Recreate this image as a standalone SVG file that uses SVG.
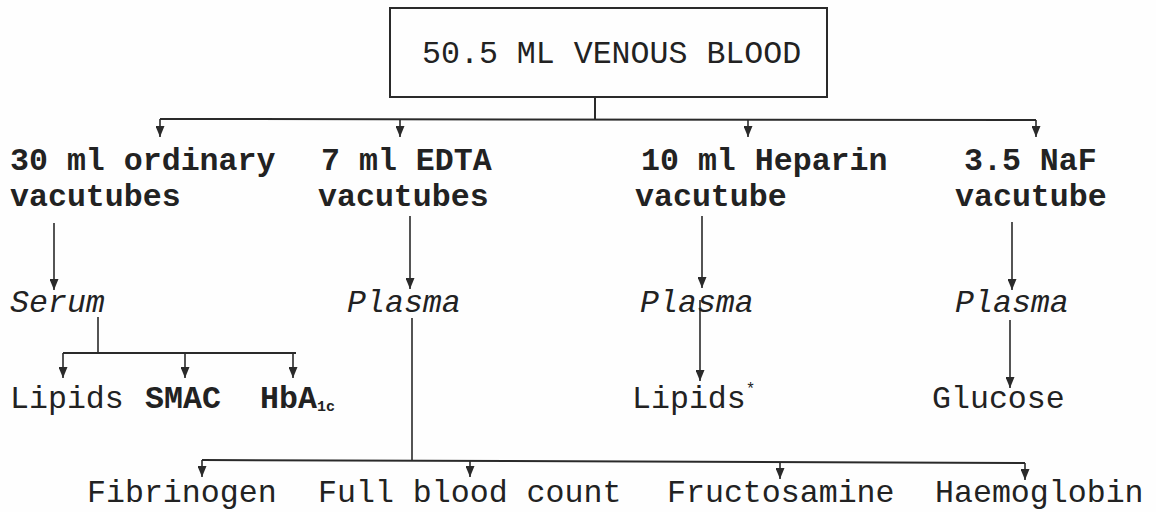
<svg xmlns="http://www.w3.org/2000/svg" width="1156" height="512" viewBox="0 0 1156 512">
<defs>
<marker id="ah" viewBox="0 -4.5 11 9" refX="11" refY="0" markerWidth="11" markerHeight="9" markerUnits="userSpaceOnUse" orient="auto">
<path d="M0,-4.5 L11,0 L0,4.5 z" fill="#2a2a2a"/>
</marker>
<style>
text{font-family:"Liberation Mono","Courier New",monospace;font-size:31.6px;fill:#222;}
.b{font-weight:bold;}
.i{font-style:italic;}
.ln{stroke:#2a2a2a;stroke-width:2;fill:none;}
.th{stroke:#2a2a2a;stroke-width:1.6;fill:none;}
.ar{stroke:#2a2a2a;stroke-width:1.6;fill:none;marker-end:url(#ah);}
</style>
</defs>
<rect width="1156" height="512" fill="#fefefe"/>

<g id="connectors">
<line class="ln" x1="595" y1="97" x2="595" y2="119"/>
<line class="ln" x1="160" y1="119" x2="1036" y2="120"/>
<line class="ar" x1="160" y1="119" x2="160" y2="137"/>
<line class="ar" x1="400" y1="119" x2="400" y2="137"/>
<line class="ar" x1="748" y1="120" x2="748" y2="137"/>
<line class="ar" x1="1036" y1="120" x2="1036" y2="137"/>

<line class="ar" x1="54" y1="223" x2="54" y2="290"/>
<line class="ar" x1="410" y1="216" x2="410" y2="289"/>
<line class="ar" x1="702" y1="216" x2="702" y2="288"/>
<line class="ar" x1="1012" y1="222" x2="1012" y2="290"/>

<line class="th" x1="98" y1="317" x2="98" y2="353"/>
<line class="ln" x1="63" y1="353" x2="296" y2="353"/>
<line class="ar" x1="63" y1="353" x2="63" y2="378"/>
<line class="ar" x1="185" y1="353" x2="185" y2="378"/>
<line class="ar" x1="293" y1="353" x2="293" y2="378"/>

<line class="ar" x1="700" y1="300" x2="700" y2="381"/>
<line class="ar" x1="1010" y1="320" x2="1010" y2="388"/>

<line class="th" x1="412" y1="318" x2="412" y2="460"/>
<line class="ln" x1="202" y1="460" x2="1025" y2="463"/>
<line class="ar" x1="202" y1="460" x2="202" y2="477"/>
<line class="ar" x1="470" y1="461" x2="470" y2="477"/>
<line class="ar" x1="780" y1="462" x2="780" y2="479"/>
<line class="ar" x1="1025" y1="463" x2="1025" y2="480"/>
</g>

<g id="venous-blood">
<rect x="390" y="8" width="437" height="89" fill="none" stroke="#2a2a2a" stroke-width="2"/>
<text x="422" y="63">50.5 ML VENOUS BLOOD</text>
</g>

<g id="ordinary-vacutubes">
<text class="b" x="10" y="170">30 ml ordinary</text>
<text class="b" x="10" y="206">vacutubes</text>
</g>
<g id="edta-vacutubes">
<text class="b" x="321" y="170">7 ml EDTA</text>
<text class="b" x="318" y="206">vacutubes</text>
</g>
<g id="heparin-vacutube">
<text class="b" x="641" y="170">10 ml Heparin</text>
<text class="b" x="635" y="206">vacutube</text>
</g>
<g id="naf-vacutube">
<text class="b" x="964" y="170">3.5 NaF</text>
<text class="b" x="955" y="206">vacutube</text>
</g>

<g id="serum"><text class="i" x="10" y="312">Serum</text></g>
<g id="plasma-edta"><text class="i" x="347" y="312">Plasma</text></g>
<g id="plasma-heparin"><text class="i" x="640" y="312">Plasma</text></g>
<g id="plasma-naf"><text class="i" x="955" y="312">Plasma</text></g>

<g id="lipids"><text x="10" y="408">Lipids</text></g>
<g id="smac"><text class="b" x="145" y="408">SMAC</text></g>
<g id="hba1c"><text class="b" x="260" y="408">HbA<tspan font-size="15" dy="3">1c</tspan></text></g>
<g id="lipids-star"><text x="632" y="408">Lipids<tspan font-size="16" dy="-14">*</tspan></text></g>
<g id="glucose"><text x="932" y="408">Glucose</text></g>

<g id="fibrinogen"><text x="87" y="502">Fibrinogen</text></g>
<g id="full-blood-count"><text x="318" y="502">Full blood count</text></g>
<g id="fructosamine"><text x="667" y="502">Fructosamine</text></g>
<g id="haemoglobin"><text x="935" y="502">Haemoglobin</text></g>
</svg>
